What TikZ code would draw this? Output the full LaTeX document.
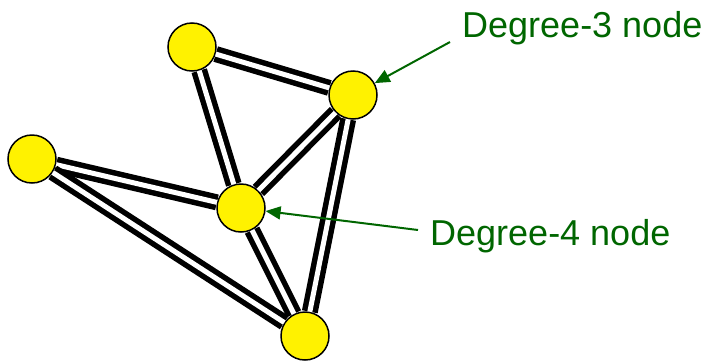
\documentclass[tikz,border=0pt]{standalone}
\usepackage{fontspec}
\setmainfont{Liberation Sans}
\usetikzlibrary{arrows.meta}
\definecolor{lblgreen}{RGB}{0,102,0}

\begin{document}
\begin{tikzpicture}[x=1pt,y=-1pt,
  v/.style={circle,draw,line width=1.5pt,fill=yellow,minimum size=48pt,inner sep=0pt},
  e/.style={draw=black,line width=5.5pt,double=white,double distance=5pt},
  lbl/.style={text=lblgreen,font=\fontsize{36}{40}\selectfont,inner sep=0pt,anchor=base west},
  ptr/.style={draw=lblgreen,line width=2pt,-{Triangle[length=15pt,width=13pt]}}]
  \useasboundingbox (0,0) rectangle (711,362);
  \node[v](a) at (192,47){};
  \node[v](b) at (353,95){};
  \node[v](c) at (32,159){};
  \node[v](d) at (241,208){};
  \node[v](f) at (305,336){};
  \path[e](a)--(b);\path[e](a)--(d);\path[e](b)--(d);\path[e](b)--(f);
  \path[e](c)--(d);\path[e](c)--(f);\path[e](d)--(f);
  \node[lbl](l3) at (462,37){Degree-3 node};
  \node[lbl](l4) at (430,245){Degree-4 node};
  \coordinate(p3) at (450,42);
  \coordinate(p4) at (418,230);
  \draw[ptr](p3)--(b);
  \draw[ptr](p4)--(d);
\end{tikzpicture}
\end{document}
